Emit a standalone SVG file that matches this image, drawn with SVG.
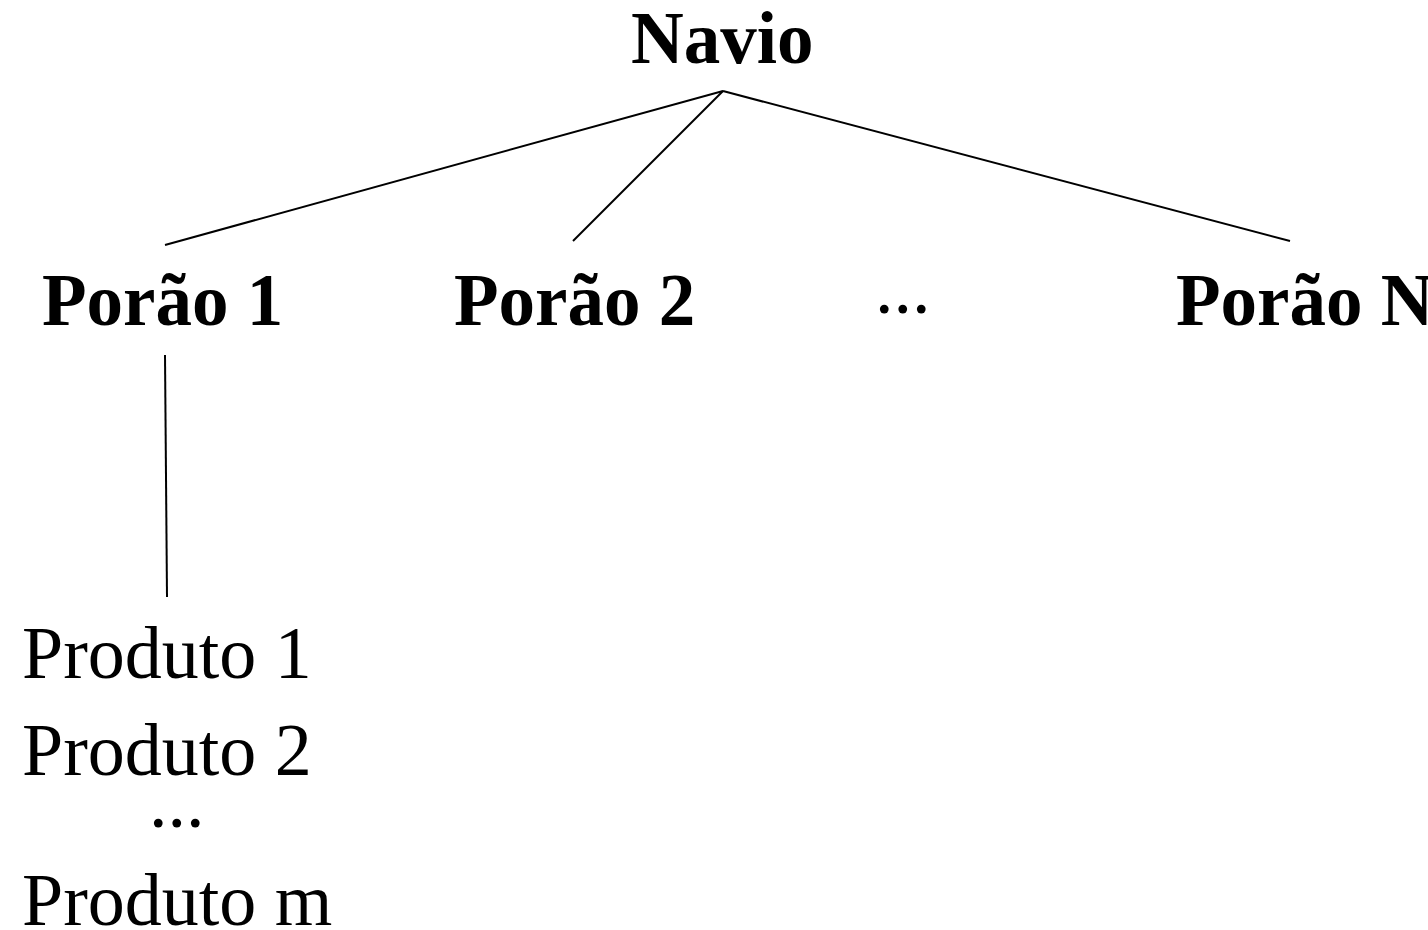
<svg xmlns="http://www.w3.org/2000/svg" width="1428" height="930" viewBox="0 0 1428 930">
<style>
text{font-family:"Liberation Serif","Times New Roman",serif;font-size:74px;fill:#000}
.b{font-weight:bold;font-size:73px}
.c line{stroke:#000;stroke-width:2;stroke-linecap:butt}
</style>
<rect width="1428" height="930" fill="#fff"/>
<g class="c" id="connectors">
<line x1="723" y1="91" x2="165" y2="245"/>
<line x1="723" y1="91" x2="573" y2="241"/>
<line x1="723" y1="91" x2="1290" y2="241"/>
<line x1="165" y1="355" x2="167" y2="597"/>
</g>
<g id="navio"><text class="b" x="631" y="63">Navio</text></g>
<g id="porao1"><text class="b" x="42" y="325">Porão 1</text></g>
<g id="porao2"><text class="b" x="454" y="325">Porão 2</text></g>
<g id="dots-top"><text x="875" y="313">...</text></g>
<g id="poraoN"><text class="b" x="1176" y="325">Porão N</text></g>
<g id="produtos">
<text x="22" y="678">Produto 1</text>
<text x="22" y="775">Produto 2</text>
<text x="149" y="827">...</text>
<text x="22" y="925">Produto m</text>
</g>
</svg>
